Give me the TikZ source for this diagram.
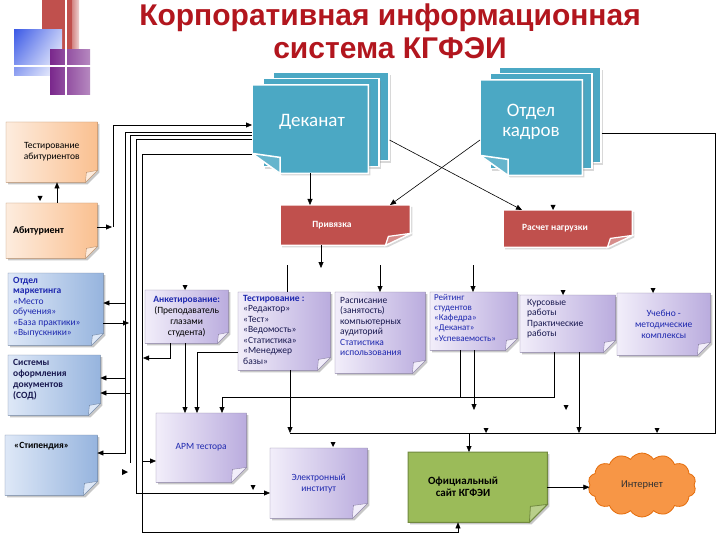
\documentclass[tikz,border=0pt]{standalone}
\usepackage{fontspec}
\setmainfont{Carlito}
\newfontfamily\titlefont{Liberation Sans}
\usetikzlibrary{arrows.meta,shapes.symbols,shadows,shadings}
\definecolor{titlered}{RGB}{178,22,30}
\definecolor{dekteal}{RGB}{75,168,196}
\definecolor{privred}{RGB}{192,80,77}
\definecolor{orL}{RGB}{253,236,222}
\definecolor{orD}{RGB}{250,192,144}
\definecolor{blL}{RGB}{222,232,247}
\definecolor{blD}{RGB}{150,180,222}
\definecolor{puL}{RGB}{242,238,250}
\definecolor{puD}{RGB}{186,172,222}
\definecolor{grn}{RGB}{155,187,89}
\definecolor{grnD}{RGB}{113,137,63}
\definecolor{cloudor}{RGB}{247,150,70}
\definecolor{cloudD}{RGB}{228,108,10}
\definecolor{tblue}{RGB}{30,40,175}
\definecolor{tnavy}{RGB}{25,25,80}
\definecolor{decpurple}{RGB}{122,40,140}
\definecolor{decblue}{RGB}{60,90,230}
\pgfdeclarelayer{bg}
\pgfsetlayers{bg,main}
\newcommand\notebg[4]{%
\begin{pgfonlayer}{bg}
\fill[black!22] ([shift={(2pt,-2pt)}]#1.north west) -- ([shift={(2pt,-2pt)}]#1.north east) -- ([shift={(2pt,#4-2pt)}]#1.south east) -- ([shift={(2pt-#4,-2pt)}]#1.south east) -- ([shift={(2pt,-2pt)}]#1.south west) -- cycle;
\path[left color=#2, right color=#3, draw=#3!75!black, line width=0.4pt] (#1.north west) -- (#1.north east) -- ([yshift=#4]#1.south east) -- ([xshift=-#4]#1.south east) -- (#1.south west) -- cycle;
\path[fill=#2, draw=#3!75!black, line width=0.4pt] ([yshift=#4]#1.south east) -- ([xshift=-#4]#1.south east) -- ([shift={(-#4+1pt,#4-2pt)}]#1.south east) -- cycle;
\end{pgfonlayer}}
\newcommand\redbg[1]{%
\begin{pgfonlayer}{bg}
\path[fill=privred, draw=white, line width=1.5pt, drop shadow={opacity=0.3,shadow xshift=2pt,shadow yshift=-2pt}] (#1.north west) -- (#1.north east) -- ([yshift=12pt]#1.south east) -- ([xshift=-25pt]#1.south east) -- (#1.south west) -- cycle;
\path[fill=privred!65, draw=white, line width=1.2pt] ([yshift=12pt]#1.south east) -- ([xshift=-25pt]#1.south east) -- ([shift={(-22pt,9pt)}]#1.south east) -- cycle;
\end{pgfonlayer}}
\newcommand\tealbg[1]{%
\begin{pgfonlayer}{bg}
\path[fill=dekteal, draw=white, line width=1.5pt, drop shadow={opacity=0.3,shadow xshift=2pt,shadow yshift=-2pt}] (#1.north west) -- (#1.north east) -- (#1.south east) -- ([xshift=28pt]#1.south west) -- ([yshift=20pt]#1.south west) -- cycle;
\path[fill=dekteal!85!white, draw=white, line width=1.5pt] ([xshift=28pt]#1.south west) -- ([yshift=20pt]#1.south west) -- ([shift={(28pt,16pt)}]#1.south west) -- cycle;
\end{pgfonlayer}}
\newcommand\dmark[2]{\fill (#1-2.5,#2-5) -- (#1+2.5,#2-5) -- (#1,#2) -- cycle;}
\newcommand\rmark[2]{\fill (#1-6,#2-3) -- (#1-6,#2+3) -- (#1,#2) -- cycle;}
\begin{document}
\begin{tikzpicture}[x=1pt,y=-1pt,line width=0.8pt,
  arr/.style={-{Triangle[length=6pt,width=5pt]}},
  box/.style={anchor=north west, inner sep=0pt, align=center, font=\fontsize{9.5}{11}\selectfont},
  txt/.style={anchor=north west, inner sep=0pt, align=left, font=\fontsize{9.5}{10.5}\selectfont},
  tealbox/.style={anchor=north west, fill=dekteal, draw=white, line width=1.5pt, drop shadow={opacity=0.3,shadow xshift=2pt,shadow yshift=-2pt}},
  bigtxt/.style={text=white, font=\fontsize{19}{20}\selectfont, align=center, inner sep=0pt}]
\useasboundingbox (0,0) rectangle (720,540);
\begin{pgfonlayer}{bg}
\fill[white] (0,0) rectangle (720,540);
\end{pgfonlayer}
% decoration
\fill[privred] (42,0) rectangle (72,52);
\shade[left color=privred!70, right color=privred!25] (72,0) rectangle (79,52);
\shade[upper left=decblue, upper right=decblue!35, lower left=decblue!55, lower right=white] (14,30) rectangle (62,76);
\shade[left color=decpurple, right color=decpurple!55] (50,50) rectangle (90,95);
\draw[white, line width=1.5pt] (0,66) -- (100,66);
\draw[white, line width=1.5pt] (66,0) -- (66,100);
% title
\node[font=\titlefont\bfseries\fontsize{30}{34}\selectfont, text=titlered] (title1) at (390,18) {Корпоративная информационная};
\node[font=\titlefont\bfseries\fontsize{30}{34}\selectfont, text=titlered] (title2) at (390,48) {система КГФЭИ};
% Деканат stack
\begin{pgfonlayer}{bg}
\node[tealbox, minimum width=116pt, minimum height=88pt] (dekb2) at (272,72) {};
\node[tealbox, minimum width=116pt, minimum height=88pt] (dekb1) at (262,78) {};
\node[tealbox, minimum width=102pt, minimum height=95pt] (kadrb2) at (498,67) {};
\node[tealbox, minimum width=102pt, minimum height=95pt] (kadrb1) at (489,73) {};
\end{pgfonlayer}
\node[box, minimum width=116pt, minimum height=88pt] (dek) at (252,85) {};
\tealbg{dek}
\node[bigtxt] (dekT) at (312,122) {Деканат};
\node[box, minimum width=102pt, minimum height=95pt] (kadr) at (480,80) {};
\tealbg{kadr}
\node[bigtxt] (kadrT) at (531,122) {Отдел\\кадров};
% red boxes
\node[box, minimum width=130pt, minimum height=40pt] (priv) at (280,205) {};
\redbg{priv}
\node[text=white, font=\bfseries\fontsize{9.5}{11}\selectfont] (privT) at (332,225) {Привязка};
\node[box, minimum width=129pt, minimum height=37pt] (rasch) at (503,210) {};
\redbg{rasch}
\node[text=white, font=\bfseries\fontsize{9.5}{11}\selectfont] (raschT) at (555,228) {Расчет нагрузки};
% left column
\node[box, minimum width=91pt, minimum height=60pt] (testab) at (6,122) {Тестирование\\абитуриентов};
\notebg{testab}{orL}{orD}{12pt}
\node[box, minimum width=91pt, minimum height=55pt] (abit) at (6,203) {};
\notebg{abit}{orL}{orD}{12pt}
\node[txt, anchor=west, font=\bfseries\fontsize{10}{11}\selectfont] (abitT) at (13,231) {Абитуриент};
\node[box, minimum width=95pt, minimum height=72pt] (mkt) at (8,273) {};
\notebg{mkt}{blL}{blD}{12pt}
\node[txt, text=tblue] (mktT) at (13,277) {\textbf{Отдел}\\\textbf{маркетинга}\\«Место\\обучения»\\«База практики»\\«Выпускники»};
\node[box, minimum width=92pt, minimum height=60pt] (sod) at (8,355) {};
\notebg{sod}{blL}{blD}{12pt}
\node[txt, text=tnavy, font=\bfseries\fontsize{9.5}{11}\selectfont] (sodT) at (13,359) {Системы\\оформления\\документов\\(СОД)};
\node[box, minimum width=92pt, minimum height=60pt] (stip) at (5,435) {};
\notebg{stip}{blL}{blD}{14pt}
\node[txt, font=\bfseries\fontsize{9.5}{11}\selectfont] (stipT) at (14,442) {«Стипендия»};
% middle row
\node[box, minimum width=83pt, minimum height=53pt] (anket) at (145,290) {\textbf{\color{tblue}Анкетирование:}\\(Преподаватель\\глазами\\студента)};
\notebg{anket}{puL}{puD}{11pt}
\node[box, minimum width=92pt, minimum height=78pt] (test) at (238,292) {};
\notebg{test}{puL}{puD}{13pt}
\node[txt, text=tnavy] (testT) at (243,295) {\textbf{\color{tblue}Тестирование :}\\«Редактор»\\«Тест»\\«Ведомость»\\«Статистика»\\«Менеджер\\базы»};
\node[box, minimum width=90pt, minimum height=81pt] (rasp) at (335,292) {};
\notebg{rasp}{puL}{puD}{13pt}
\node[txt, text=tnavy] (raspT) at (340,297) {Расписание\\(занятость)\\компьютерных\\аудиторий\\{\color{tblue}Статистика}\\{\color{tblue}использования}};
\node[box, minimum width=87pt, minimum height=58pt] (reit) at (430,292) {};
\notebg{reit}{puL}{puD}{12pt}
\node[txt, text=tblue, font=\fontsize{9}{10.2}\selectfont] (reitT) at (434,294) {Рейтинг\\студентов\\«Кафедра»\\«Деканат»\\«Успеваемость»};
\node[box, minimum width=95pt, minimum height=57pt] (kurs) at (520,295) {};
\notebg{kurs}{puL}{puD}{12pt}
\node[txt, text=tnavy] (kursT) at (527,299) {Курсовые\\работы\\Практические\\работы};
\node[box, minimum width=93pt, minimum height=62pt, text=tblue] (ucheb) at (617,293) {Учебно -\\методические\\комплексы};
\notebg{ucheb}{puL}{puD}{13pt}
% bottom row
\node[box, minimum width=90pt, minimum height=69pt, text=tblue] (arm) at (156,413) {АРМ тестора};
\notebg{arm}{puL}{puD}{15pt}
\node[box, minimum width=97pt, minimum height=70pt, text=tblue] (einst) at (270,448) {Электронный\\институт};
\notebg{einst}{puL}{puD}{15pt}
\node[box, minimum width=139pt, minimum height=70pt] (site) at (408,452) {};
\begin{pgfonlayer}{bg}
\fill[black!22] ([shift={(2pt,-2pt)}]site.north west) -- ([shift={(2pt,-2pt)}]site.north east) -- ([shift={(2pt,16pt)}]site.south east) -- ([shift={(-16pt,-2pt)}]site.south east) -- ([shift={(2pt,-2pt)}]site.south west) -- cycle;
\path[fill=grn, draw=grnD, line width=1pt] (site.north west) -- (site.north east) -- ([yshift=18pt]site.south east) -- ([xshift=-18pt]site.south east) -- (site.south west) -- cycle;
\path[fill=grn!70!white, draw=grnD, line width=0.8pt] ([yshift=18pt]site.south east) -- ([xshift=-18pt]site.south east) -- ([shift={(-17pt,16pt)}]site.south east) -- cycle;
\end{pgfonlayer}
\node[align=center, inner sep=0pt, font=\bfseries\fontsize{11}{12}\selectfont] (siteT) at (463,487) {Официальный\\сайт КГФЭИ};
\node[cloud, cloud puffs=14, cloud puff arc=115, aspect=1.7, fill=cloudor, draw=cloudD, line width=0.8pt, minimum width=108pt, minimum height=64pt, inner sep=0pt, font=\fontsize{10.5}{12}\selectfont, text=black!80] (inet) at (642,485) {Интернет};
% connectors: left bundle
\draw[arr] (abit.east |- 0,227) -- (112,227);
\draw[arr] (113,227) |- (dek.west |- 0,125);
\draw[arr] (dek.west |- 0,132) -| (125,303) -- (mkt.east |- 0,303);
\draw[arr] (125,303) |- (sod.east |- 0,378);
\draw[arr] (125,378) |- (stip.east |- 0,453);
\draw (dek.west |- 0,135) -| (130,463);
\draw[arr] (mkt.east |- 0,323) -- (129,323);
\draw[arr] (130,393) -- (sod.east |- 0,393);
\rmark{128}{472}
\draw[arr] (dek.west |- 0,139) -| (136,493) -- (einst.west |- 0,493);
\draw[arr] (dek.west |- 0,154) -| (142,532) -| (site.south -| 458,0);
\draw[arr] (142,461) -- (arm.west |- 0,461);
\draw[arr] (anket.south -| 170,0) |- (143,358);
\draw[arr] (abit.north -| 57,0) -- (testab.south -| 57,0);
\dmark{40}{201}
% top connectors
\draw[arr] (dek.south -| 310,0) -- (priv.north -| 310,0);
\draw[arr, line width=0.6pt] (dekb2.east |- 0,140) -- (rasch.north -| 522,0);
\draw[arr, line width=0.6pt] (kadr.west |- 0,140) -- (priv.north -| 390,0);
\dmark{553}{210}
\draw (kadrb2.east |- 0,133) -| (715,433) -- (290,433);
\draw[arr] (test.south -| 290,0) -- (290,433);
\draw[arr] (priv.south -| 321,0) -- (321,268);
\draw (287,265) -- (test.north -| 287,0);
\draw[arr] (380,265) -- (rasp.north -| 380,0);
\draw[arr] (473,265) -- (reit.north -| 473,0);
\dmark{185}{290}
\dmark{563}{295}
\dmark{653}{293}
% lower connectors
\draw[arr] (test.west |- 0,352) -| (arm.north -| 197,0);
\draw[arr] (anket.south -| 185,0) -- (arm.north -| 185,0);
\draw[arr] (kurs.south -| 554,0) |- (222,397) -- (arm.north -| 222,0);
\draw (reit.south -| 460,0) -- (460,397);
\draw[arr] (reit.south -| 474,0) -- (474,410);
\dmark{566}{410}
\draw[arr] (kurs.south -| 579,0) -- (579,433);
\draw[arr] (469,433) -- (site.north -| 469,0);
\dmark{486}{433}
\dmark{657}{433}
\dmark{333}{447}
\dmark{253}{490}
\draw[arr] (site.east) -- (site.east -| inet.west);
\end{tikzpicture}
\end{document}
